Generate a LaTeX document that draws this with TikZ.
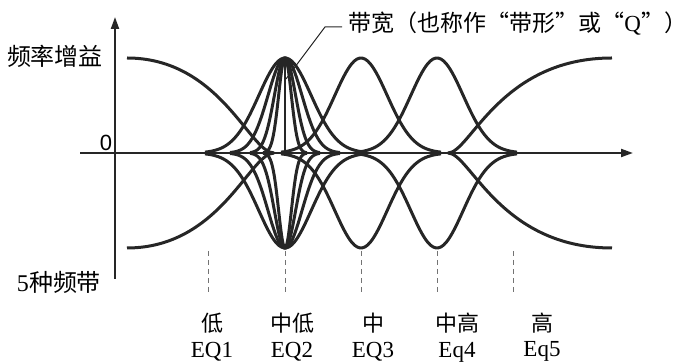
\documentclass[tikz,border=0pt]{standalone}
\usepackage{fontspec}
\setmainfont{Liberation Serif}
\newfontfamily\cjk{Noto Sans CJK SC}
\newfontfamily\axisfont{Liberation Sans}
\usetikzlibrary{positioning,arrows.meta}

\begin{document}
\begin{tikzpicture}[x=0.5pt,y=-0.5pt,every node/.style={font=\fontsize{11}{13}\selectfont,inner sep=0pt},node distance=4pt,
  declare function={bell(\d,\w)=exp(-(\d/\w)*(\d/\w));},
  axis/.style={line width=1pt,black!85,-{Triangle[length=6pt,width=4pt]}},
  curve/.style={line width=1.5pt,black!85,line join=round},
  band/.style={draw=black!55,line width=0.5pt,dash pattern=on 2.5pt off 2pt}]
\useasboundingbox (0,0) rectangle (692,362);
\coordinate (xs) at (80,153);
\coordinate (xe) at (633,153);
\coordinate (ys) at (115,279);
\coordinate (ye) at (115,17);
\draw[axis] (xs) -- (xe);
\draw[axis] (ys) -- (ye);
\node[font=\fontsize{11}{13}\axisfont] (zero) at (106,143) {0};
\node[font=\fontsize{12}{14}\selectfont] (gain) at (55,56) {\cjk 频率增益};
\node[font=\fontsize{12}{14}\selectfont] (bands) at (59,282) {5\cjk 种频带};
\foreach \w/\r in {37/80,24/55,15/35,9/22} {
  \draw[curve] plot[domain=-\r:\r,samples=60,smooth] ({285+\x},{153-95*bell(\x,\w)});
  \draw[curve] plot[domain=-\r:\r,samples=60,smooth] ({285+\x},{153+95*bell(\x,\w)});
}
\foreach \c in {361,437} {
  \draw[curve] plot[domain=-80:80,samples=60,smooth] ({\c+\x},{153-95*bell(\x,37)});
  \draw[curve] plot[domain=-80:80,samples=60,smooth] ({\c+\x},{153+95*bell(\x,37)});
}
\draw[curve] (127,58) .. controls (220,58) and (250,153) .. (274,153);
\draw[curve] (127,248) .. controls (220,248) and (250,153) .. (274,153);
\draw[curve] (448,153) .. controls (470,153) and (500,58) .. (612,58);
\draw[curve] (448,153) .. controls (470,153) and (500,248) .. (612,248);
\draw[line width=0.6pt,black!85] (285,60) -- (285,153);
\coordinate (tip) at (286,79);
\coordinate (knee) at (325,27);
\node[anchor=west,font=\fontsize{11.5}{14}\selectfont] (bw) at (348,24) {\cjk 带宽（也称作“带形”或“\textrm{Q}”）};
\draw[line width=0.5pt,black!85] (tip) -- (knee) -- ([xshift=-3pt]knee -| bw.west);
\foreach \x in {208,285,361,437,513}
  \draw[band] (\x,251) -- (\x,295);
\foreach \x/\a/\b [count=\i] in {212/低/EQ1,292/中低/EQ2,373/中/EQ3,457/中高/Eq4,542/高/Eq5} {
  \node (lvl\i) at (\x,323) {\cjk\a};
  \node[below=4pt of lvl\i,font=\fontsize{11.5}{14}\selectfont] (eq\i) {\b};
}
\end{tikzpicture}
\end{document}
